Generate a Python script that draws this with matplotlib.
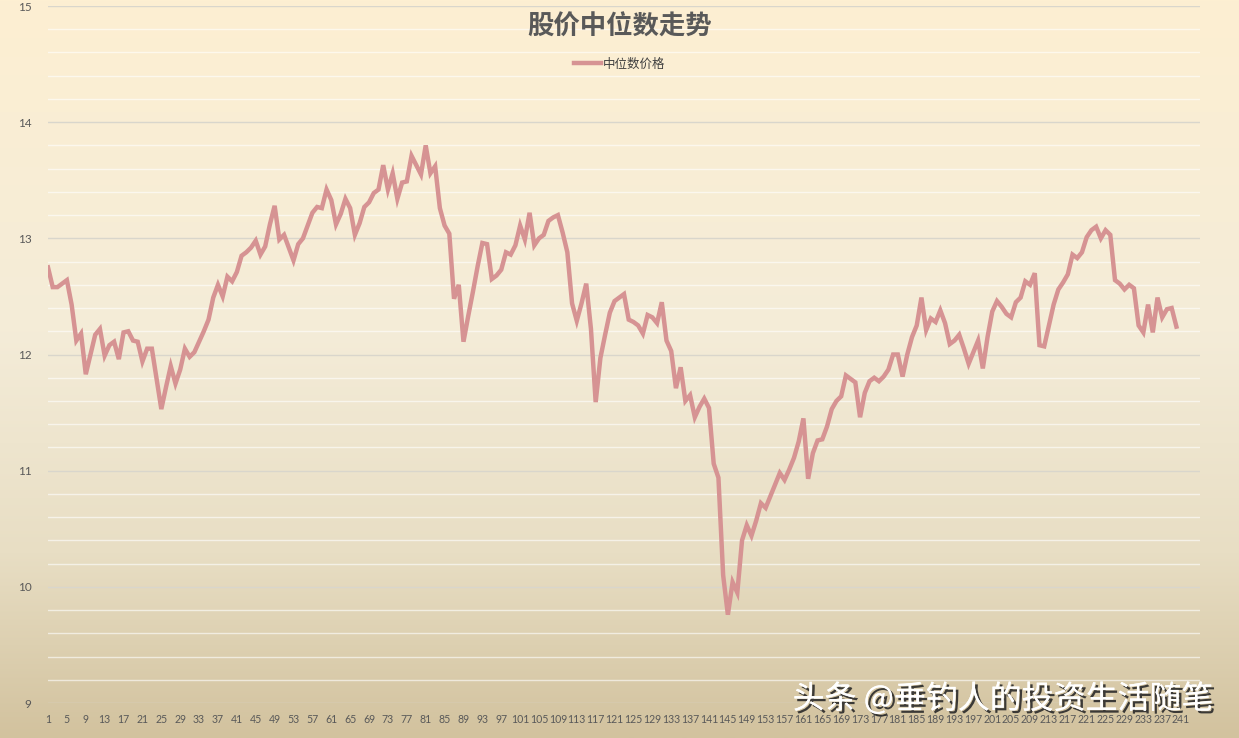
"""
plot.py
=======
Evolución del precio mediano (股价中位数走势) reproducida con matplotlib.
"""

# =============================================================================
# IMPORTS
# =============================================================================
import matplotlib
matplotlib.use('Agg')
import matplotlib.pyplot as plt
import matplotlib.patheffects as pe
import numpy as np
from matplotlib.colors import LinearSegmentedColormap

# =============================================================================
# DATOS
# =============================================================================
TITULO  = '股价中位数走势'
SERIE   = '中位数价格'
MARCA   = '头条 @垂钓人的投资生活随笔'

VALORES = [
    12.75, 12.58, 12.58, 12.61, 12.64, 12.43, 12.12, 12.18, 11.83, 12.00,
    12.17, 12.22, 11.99, 12.08, 12.11, 11.96, 12.19, 12.20, 12.12, 12.11,
    11.94, 12.05, 12.05, 11.79, 11.53, 11.72, 11.90, 11.75, 11.87, 12.05,
    11.98, 12.02, 12.11, 12.20, 12.30, 12.49, 12.60, 12.50, 12.67, 12.63,
    12.71, 12.85, 12.88, 12.92, 12.98, 12.86, 12.93, 13.12, 13.28, 12.99,
    13.03, 12.92, 12.81, 12.95, 13.00, 13.11, 13.22, 13.27, 13.26, 13.42,
    13.33, 13.12, 13.21, 13.34, 13.26, 13.03, 13.13, 13.27, 13.31, 13.39,
    13.42, 13.63, 13.42, 13.56, 13.34, 13.48, 13.49, 13.71, 13.63, 13.55,
    13.80, 13.56, 13.62, 13.26, 13.11, 13.04, 12.48, 12.60, 12.11, 12.33,
    12.54, 12.76, 12.96, 12.95, 12.65, 12.68, 12.73, 12.88, 12.86, 12.94,
    13.11, 12.99, 13.22, 12.94, 13.00, 13.03, 13.15, 13.18, 13.20, 13.05,
    12.88, 12.44, 12.29, 12.44, 12.61, 12.22, 11.59, 11.97, 12.17, 12.36,
    12.46, 12.49, 12.52, 12.30, 12.28, 12.25, 12.18, 12.34, 12.32, 12.27,
    12.45, 12.12, 12.03, 11.71, 11.89, 11.60, 11.65, 11.46, 11.55, 11.62,
    11.54, 11.06, 10.94, 10.10, 9.76, 10.04, 9.95, 10.40, 10.53, 10.44,
    10.57, 10.72, 10.68, 10.78, 10.88, 10.98, 10.92, 11.01, 11.11, 11.25,
    11.45, 10.93, 11.15, 11.26, 11.27, 11.38, 11.53, 11.60, 11.64, 11.82,
    11.79, 11.76, 11.46, 11.67, 11.77, 11.80, 11.77, 11.81, 11.87, 12.00,
    12.00, 11.81, 12.00, 12.15, 12.25, 12.49, 12.21, 12.31, 12.28, 12.38,
    12.27, 12.09, 12.12, 12.17, 12.05, 11.92, 12.02, 12.12, 11.88, 12.15,
    12.37, 12.46, 12.41, 12.35, 12.32, 12.45, 12.49, 12.63, 12.60, 12.70,
    12.08, 12.07, 12.25, 12.43, 12.56, 12.62, 12.69, 12.86, 12.83, 12.88,
    13.01, 13.07, 13.10, 13.00, 13.07, 13.03, 12.64, 12.61, 12.56, 12.60,
    12.57, 12.25, 12.19, 12.43, 12.19, 12.49, 12.32, 12.39, 12.40, 12.24,
]
PERIODOS   = list(range(1, len(VALORES) + 1))
TICKS_X    = list(range(1, 242, 4))
TICKS_Y    = [9, 10, 11, 12, 13, 14, 15]

COLOR_LINEA = '#D69393'
COLOR_TEXTO = '#595959'
FUENTE_CJK  = ['Noto Sans CJK SC', 'DejaVu Sans']


# =============================================================================
# FUNCIONES
# =============================================================================

def fondo_degradado(fig):
    """Pinta el degradado crema -> marrón claro sobre toda la figura."""
    cmap = LinearSegmentedColormap.from_list(
        'fondo', [(0.0, '#FDEFD2'), (0.45, '#F4ECD8'), (0.75, '#E8DEC4'), (1.0, '#D2C29E')]
    )
    ax_bg = fig.add_axes([0, 0, 1, 1], zorder=-10)
    grad = np.linspace(0, 1, 256).reshape(-1, 1)
    ax_bg.imshow(grad, aspect='auto', cmap=cmap, extent=[0, 1, 0, 1])
    ax_bg.axis('off')


def grafico_mediana():
    fig = plt.figure(figsize=(12.39, 7.38), dpi=100)
    fondo_degradado(fig)

    ax = fig.add_axes([48 / 1239, 1 - 703 / 738, (1200 - 48) / 1239, (703 - 6) / 738])
    ax.patch.set_alpha(0)

    # rejilla secundaria (blanca, cada 0.2) y principal (gris, cada 1)
    for v in np.arange(9.2, 15, 0.2):
        if abs(v - round(v)) > 1e-6:
            ax.axhline(v, color='#FFFFFF', lw=1.0, alpha=0.6, zorder=1)
    for v in TICKS_Y:
        ax.axhline(v, color='#D9D6CC', lw=1.0, zorder=2)

    linea, = ax.plot(PERIODOS, VALORES, color=COLOR_LINEA, lw=3.2,
                     solid_joinstyle='miter', zorder=3, label=SERIE)

    ax.set_xlim(1, 245)
    ax.set_ylim(9, 15)
    ax.set_xticks(TICKS_X)
    ax.set_xticklabels([str(t) for t in TICKS_X], fontsize=7.6, color=COLOR_TEXTO,
                       family='Lato')
    ax.set_yticks(TICKS_Y)
    ax.set_yticklabels([str(t) for t in TICKS_Y], fontsize=8.5, color=COLOR_TEXTO,
                       family='Lato')
    ax.tick_params(length=0, pad=8)
    ax.tick_params(axis='y', pad=12)
    for sp in ax.spines.values():
        sp.set_visible(False)

    fig.text(0.5, 1 - 27 / 738, TITULO, ha='center', va='center', fontsize=19,
             fontweight='bold', color=COLOR_TEXTO, family=FUENTE_CJK)

    fig.legend(handles=[linea], loc='center', bbox_to_anchor=(0.5, 1 - 64 / 738),
               frameon=False, handlelength=2.2, handletextpad=0.15,
               prop={'family': FUENTE_CJK, 'size': 9}, labelcolor='#404040')

    fig.text(1214 / 1239, 1 - 699 / 738, MARCA, ha='right', va='center',
             fontsize=23, color='white', fontweight='medium', family=FUENTE_CJK,
             path_effects=[pe.withSimplePatchShadow(offset=(2, -2),
                                                    shadow_rgbFace='#2A2A2A',
                                                    alpha=0.9),
                           pe.Normal()])

    fig.savefig('out.png', dpi=100)
    plt.close(fig)


# =============================================================================
# PUNTO DE ENTRADA
# =============================================================================

def main():
    grafico_mediana()


if __name__ == '__main__':
    main()
